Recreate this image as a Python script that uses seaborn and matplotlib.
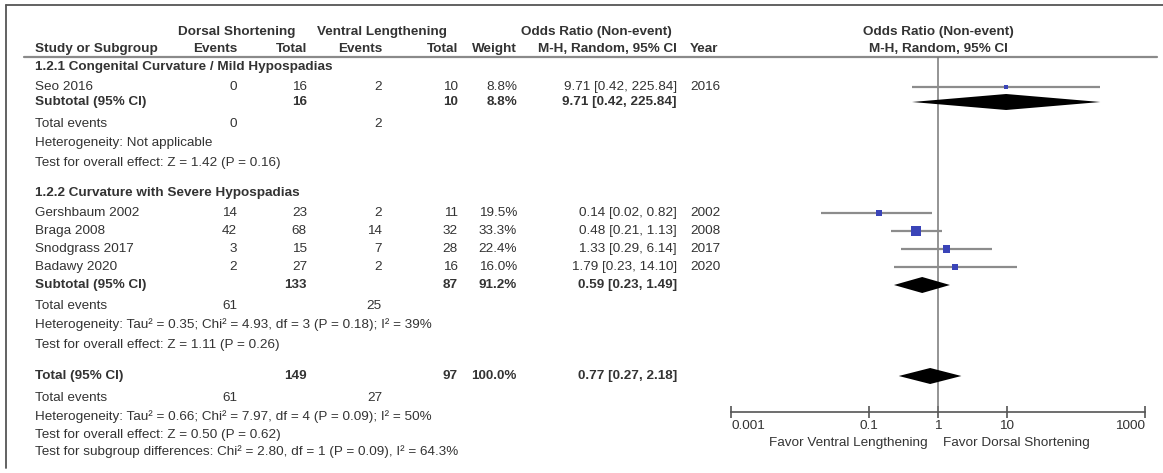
import numpy as np
import pandas as pd
import matplotlib
matplotlib.use('Agg')
import matplotlib.pyplot as plt
import seaborn as sns

# Study data
studies = ['Seo 2016', 'Gershbaum 2002', 'Braga 2008', 'Snodgrass 2017', 'Badawy 2020']
group = [1, 2, 2, 2, 2]
ds_events = [0, 14, 42, 3, 2]
ds_total = [16, 23, 68, 15, 27]
vl_events = [2, 2, 14, 7, 2]
vl_total = [10, 11, 32, 28, 16]
weight = [8.8, 19.5, 33.3, 22.4, 16.0]
odds = [9.71, 0.14, 0.48, 1.33, 1.79]
ci_low = [0.42, 0.02, 0.21, 0.29, 0.23]
ci_high = [225.84, 0.82, 1.13, 6.14, 14.10]
year = [2016, 2002, 2008, 2017, 2020]

# Subgroups
sub_titles = ['1.2.1 Congenital Curvature / Mild Hypospadias', '1.2.2 Curvature with Severe Hypospadias']
sub_ds_total = [16, 133]
sub_vl_total = [10, 87]
sub_ds_events = [0, 61]
sub_vl_events = [2, 25]
sub_weight = [8.8, 91.2]
sub_odds = [9.71, 0.59]
sub_low = [0.42, 0.23]
sub_high = [225.84, 1.49]
sub_het = ['Heterogeneity: Not applicable',
           'Heterogeneity: Tau² = 0.35; Chi² = 4.93, df = 3 (P = 0.18); I² = 39%']
sub_test = ['Test for overall effect: Z = 1.42 (P = 0.16)',
            'Test for overall effect: Z = 1.11 (P = 0.26)']

# Overall
tot_ds_total, tot_vl_total = 149, 97
tot_ds_events, tot_vl_events = 61, 27
tot_weight = 100.0
tot_odds, tot_low, tot_high = 0.77, 0.27, 2.18
tot_het = 'Heterogeneity: Tau² = 0.66; Chi² = 7.97, df = 4 (P = 0.09); I² = 50%'
tot_test = 'Test for overall effect: Z = 0.50 (P = 0.62)'
subgroup_test = 'Test for subgroup differences: Chi² = 2.80, df = 1 (P = 0.09), I² = 64.3%'

ticks = [0.001, 0.1, 1, 10, 1000]
tick_labels = ['0.001', '0.1', '1', '10', '1000']

# Layout (pixel rows from top)
W, H = 1163, 473
study_y = [87, 213, 231, 249, 267]
title_y = [67, 193]
subtotal_y = [102, 285]
events_y = [124, 306]
het_y = [143, 325]
test_y = [163, 345]
total_y, tot_events_y, tot_het_y, tot_test_y, subgroup_y = 376, 398, 417, 435, 452
axis_y = 412

sns.set_theme(style='white')
plt.rcParams['font.family'] = ['Liberation Sans', 'DejaVu Sans']
FS = 9.7
TXT = '#333333'

fig = plt.figure(figsize=(W / 100, H / 100), dpi=100)
tab = fig.add_axes([0, 0, 1, 1])
tab.set_xlim(0, W)
tab.set_ylim(H, 0)
tab.axis('off')

# frame and header rule
tab.plot([6, W], [5, 5], color='#555555', lw=1.3)
tab.plot([6, 6], [5, 468], color='#555555', lw=1.3)
tab.plot([24, 1157], [57, 57], color='#8a8a8a', lw=1.6)

def t(x, y, s, ha='right', bold=False):
    tab.text(x, y, s, ha=ha, va='center', fontsize=FS, color=TXT,
             fontweight='bold' if bold else 'normal')

cols = dict(ev1=237, to1=307, ev2=382, to2=458, wt=517, orr=677, yr=690)

# headers
t(237, 32, 'Dorsal Shortening', ha='center', bold=True)
t(382, 32, 'Ventral Lengthening', ha='center', bold=True)
t(596, 32, 'Odds Ratio (Non-event)', ha='center', bold=True)
t(35, 49, 'Study or Subgroup', ha='left', bold=True)
t(cols['ev1'], 49, 'Events', bold=True)
t(cols['to1'], 49, 'Total', bold=True)
t(cols['ev2'], 49, 'Events', bold=True)
t(cols['to2'], 49, 'Total', bold=True)
t(cols['wt'], 49, 'Weight', bold=True)
t(cols['orr'], 49, 'M-H, Random, 95% CI', bold=True)
t(cols['yr'], 49, 'Year', ha='left', bold=True)

# study rows
for i, name in enumerate(studies):
    y = study_y[i]
    t(35, y, name, ha='left')
    t(cols['ev1'], y, str(ds_events[i]))
    t(cols['to1'], y, str(ds_total[i]))
    t(cols['ev2'], y, str(vl_events[i]))
    t(cols['to2'], y, str(vl_total[i]))
    t(cols['wt'], y, f'{weight[i]:.1f}%')
    t(cols['orr'], y, f'{odds[i]:.2f} [{ci_low[i]:.2f}, {ci_high[i]:.2f}]')
    t(cols['yr'], y, str(year[i]), ha='left')

# subgroup rows
for g in range(2):
    t(35, title_y[g], sub_titles[g], ha='left', bold=True)
    y = subtotal_y[g]
    t(35, y, 'Subtotal (95% CI)', ha='left', bold=True)
    t(cols['to1'], y, str(sub_ds_total[g]), bold=True)
    t(cols['to2'], y, str(sub_vl_total[g]), bold=True)
    t(cols['wt'], y, f'{sub_weight[g]:.1f}%', bold=True)
    t(cols['orr'], y, f'{sub_odds[g]:.2f} [{sub_low[g]:.2f}, {sub_high[g]:.2f}]', bold=True)
    t(35, events_y[g], 'Total events', ha='left')
    t(cols['ev1'], events_y[g], str(sub_ds_events[g]))
    t(cols['ev2'], events_y[g], str(sub_vl_events[g]))
    t(35, het_y[g], sub_het[g], ha='left')
    t(35, test_y[g], sub_test[g], ha='left')

# overall rows
t(35, total_y, 'Total (95% CI)', ha='left', bold=True)
t(cols['to1'], total_y, str(tot_ds_total), bold=True)
t(cols['to2'], total_y, str(tot_vl_total), bold=True)
t(cols['wt'], total_y, f'{tot_weight:.1f}%', bold=True)
t(cols['orr'], total_y, f'{tot_odds:.2f} [{tot_low:.2f}, {tot_high:.2f}]', bold=True)
t(35, tot_events_y, 'Total events', ha='left')
t(cols['ev1'], tot_events_y, str(tot_ds_events))
t(cols['ev2'], tot_events_y, str(tot_vl_events))
t(35, tot_het_y, tot_het, ha='left')
t(35, tot_test_y, tot_test, ha='left')
t(35, subgroup_y, subgroup_test, ha='left')

# forest plot axes
x0, x1 = 731, 1145
ax = fig.add_axes([x0 / W, 0, (x1 - x0) / W, 1])
ax.patch.set_alpha(0)
ax.set_xscale('log')
ax.set_xlim(ticks[0], ticks[-1])
ax.set_ylim(H, 0)
for s in ['top', 'left', 'right']:
    ax.spines[s].set_visible(False)
ax.spines['bottom'].set_position(('data', axis_y))
ax.spines['bottom'].set_color('#555555')
ax.spines['bottom'].set_linewidth(1.2)
ax.set_yticks([])
ax.set_xticks(ticks)
ax.set_xticklabels(tick_labels)
ax.minorticks_off()
ax.tick_params(axis='x', which='major', bottom=True, direction='inout', length=8,
               width=1.2, color='#555555', labelsize=FS, labelcolor=TXT, pad=2)
labs = ax.get_xticklabels()
labs[0].set_ha('left')
labs[-1].set_ha('right')

ax.vlines(1, 57, axis_y, color='#777777', lw=1.1, zorder=1)

df = pd.DataFrame({'study': studies, 'odds': odds, 'low': ci_low, 'high': ci_high,
                   'weight': weight, 'y': study_y})
ax.hlines(df['y'], df['low'], df['high'], color='#8c8c8c', lw=1.6, zorder=2)
sns.scatterplot(data=df, x='odds', y='y', size='weight', sizes=(7, 45), marker='s',
                color='#3a44b8', edgecolor='none', legend=False, ax=ax, zorder=3)
ax.set_xlabel('')
ax.set_ylabel('')

def diamond(est, lo, hi, y, h=8):
    ax.fill([lo, est, hi, est], [y, y - h, y, y + h], color='black', lw=0, zorder=4)

for g in range(2):
    diamond(sub_odds[g], sub_low[g], sub_high[g], subtotal_y[g])
diamond(tot_odds, tot_low, tot_high, total_y)

ax.text(1, 32, 'Odds Ratio (Non-event)', ha='center', va='center', fontsize=FS,
        color=TXT, fontweight='bold')
ax.text(1, 49, 'M-H, Random, 95% CI', ha='center', va='center', fontsize=FS,
        color=TXT, fontweight='bold')
ax.annotate('Favor Ventral Lengthening', xy=(1, 443), xytext=(-10, 0),
            textcoords='offset pixels', ha='right', va='center', fontsize=FS, color=TXT)
ax.annotate('Favor Dorsal Shortening', xy=(1, 443), xytext=(5, 0),
            textcoords='offset pixels', ha='left', va='center', fontsize=FS, color=TXT)

fig.savefig('out.png', dpi=100)
